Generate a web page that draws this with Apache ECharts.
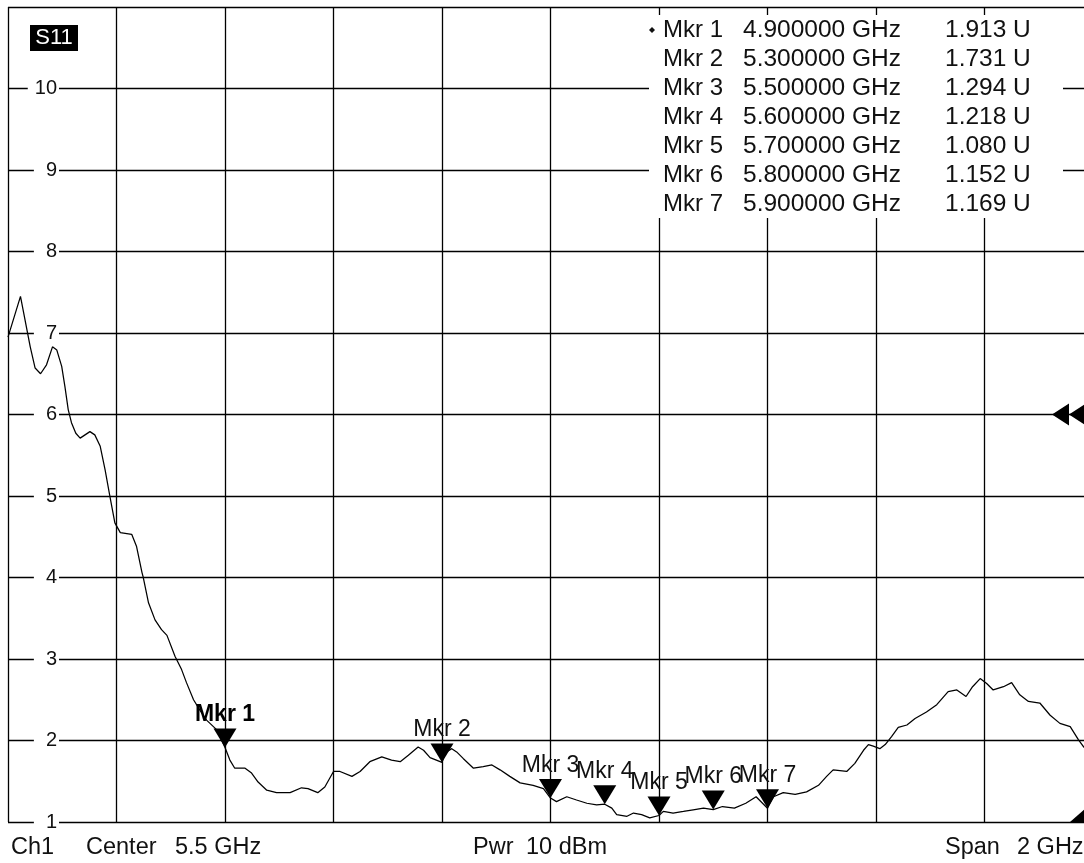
<!DOCTYPE html>
<html>
<head>
<meta charset="utf-8">
<script src="https://cdn.jsdelivr.net/npm/echarts@6/dist/echarts.min.js"></script>
<style>
html,body{margin:0;padding:0;background:#fff;}
#chart{width:1084px;height:863px;}
</style>
</head>
<body>
<div id="chart"></div>
<script>
// ---- data ----
const freqGHz = [4.500,4.523,4.541,4.550,4.560,4.571,4.582,4.590,4.599,4.605,4.611,4.617,4.625,4.633,4.642,4.651,4.660,4.670,4.679,4.688,
4.697,4.707,4.728,4.737,4.747,4.749,4.759,4.771,4.783,4.793,4.808,4.820,4.829,4.842,4.854,4.866,4.885,4.900,4.909,4.918,
4.937,4.949,4.961,4.977,4.995,5.020,5.041,5.053,5.071,5.084,5.100,5.112,5.134,5.149,5.167,5.189,5.207,5.223,5.238,5.256,
5.266,5.278,5.300,5.306,5.318,5.327,5.339,5.358,5.376,5.392,5.407,5.425,5.444,5.468,5.487,5.500,5.511,5.530,5.548,5.567,
5.585,5.600,5.613,5.622,5.641,5.653,5.668,5.683,5.700,5.708,5.726,5.745,5.763,5.782,5.800,5.817,5.839,5.860,5.879,5.900,
5.911,5.929,5.951,5.972,5.994,6.009,6.021,6.046,6.061,6.077,6.086,6.095,6.107,6.117,6.129,6.141,6.157,6.172,6.193,6.212,
6.233,6.249,6.266,6.278,6.292,6.304,6.316,6.335,6.350,6.365,6.381,6.402,6.421,6.439,6.458,6.473,6.483,6.500];
const s11Values = [6.95,7.45,6.83,6.57,6.50,6.61,6.83,6.79,6.59,6.34,6.06,5.90,5.77,5.71,5.75,5.79,5.75,5.61,5.32,4.99,
4.67,4.55,4.53,4.38,4.06,4.01,3.69,3.48,3.36,3.29,3.03,2.87,2.71,2.50,2.37,2.25,2.13,1.913,1.76,1.66,
1.66,1.60,1.49,1.39,1.36,1.36,1.42,1.41,1.36,1.43,1.62,1.62,1.56,1.62,1.74,1.80,1.76,1.74,1.82,1.92,
1.88,1.79,1.731,1.85,1.90,1.86,1.78,1.66,1.68,1.70,1.64,1.56,1.48,1.45,1.41,1.294,1.25,1.31,1.27,1.23,
1.21,1.218,1.17,1.09,1.07,1.11,1.09,1.05,1.080,1.13,1.11,1.13,1.15,1.17,1.152,1.19,1.17,1.23,1.31,1.169,
1.31,1.36,1.34,1.37,1.45,1.56,1.64,1.62,1.72,1.88,1.95,1.93,1.90,1.95,2.05,2.16,2.19,2.27,2.35,2.44,
2.60,2.62,2.54,2.66,2.76,2.70,2.62,2.66,2.71,2.56,2.48,2.46,2.31,2.21,2.17,2.01,1.92,1.82];

const markerNames = ['Mkr 1','Mkr 2','Mkr 3','Mkr 4','Mkr 5','Mkr 6','Mkr 7'];
const markerFreqGHz = [4.9,5.3,5.5,5.6,5.7,5.8,5.9];
const markerValues = [1.913,1.731,1.294,1.218,1.080,1.152,1.169];

const yTickLabels = ['1','2','3','4','5','6','7','8','9','10'];
const yMin = 1, yMax = 11, yStep = 1;
const centerGHz = 5.5, spanGHz = 2, pwrDbm = 10;
const refLevel = 6;
const traceName = 'S11', channelName = 'Ch1';

// ---- chart ----
const FONT = '"Liberation Sans", Arial, sans-serif';
const xMin = centerGHz - spanGHz / 2, xMax = centerGHz + spanGHz / 2;

const chart = echarts.init(document.getElementById('chart'), null, {renderer: 'canvas'});

const tableGraphics = [];
tableGraphics.push({type:'rect', z: 10, shape:{x:649, y:15, width:414, height:203}, style:{fill:'#fff'}});
tableGraphics.push({type:'polygon', z: 11, shape:{points:[[652,27],[655,30],[652,33],[649,30]]}, style:{fill:'#111'}});
markerNames.forEach(function (n, i) {
  const y = 30 + i * 29;
  tableGraphics.push({type:'text', z:11, x:663, y:y, style:{text:n, fill:'#111', font:'24px ' + FONT, align:'left', verticalAlign:'middle'}});
  tableGraphics.push({type:'text', z:11, x:743, y:y, style:{text:markerFreqGHz[i].toFixed(6) + ' GHz', fill:'#111', font:'24.5px ' + FONT, align:'left', verticalAlign:'middle'}});
  tableGraphics.push({type:'text', z:11, x:945, y:y, style:{text:markerValues[i].toFixed(3) + ' U', fill:'#111', font:'24.5px ' + FONT, align:'left', verticalAlign:'middle'}});
});

const bottomFont = '23.5px ' + FONT;
const bottomTexts = [
  {x:11, t:channelName},
  {x:86, t:'Center'},
  {x:175, t:centerGHz + ' GHz'},
  {x:473, t:'Pwr'},
  {x:526, t:pwrDbm + ' dBm'},
  {x:945, t:'Span'},
  {x:1017, t:spanGHz + ' GHz'}
].map(function (o) {
  return {type:'text', z:11, x:o.x, y:848, style:{text:o.t, fill:'#111', font:bottomFont, align:'left', verticalAlign:'middle'}};
});

const option = {
  backgroundColor: '#fff',
  animation: false,
  grid: {left: 8, top: 7, width: 1085, height: 815, containLabel: false, outerBoundsMode: 'none', show: false},
  xAxis: [
    {type:'value', min:xMin, max:xMax, show:false},
    {type:'value', min:0, max:10, interval:1, position:'top', z:0,
     axisLine:{show:false}, axisTick:{show:false}, axisLabel:{show:false},
     splitLine:{show:true, lineStyle:{color:'#000', width:1.3}}}
  ],
  yAxis: [
    {type:'value', min:yMin, max:yMax, interval:yStep, position:'left', z:5,
     axisLine:{show:false}, axisTick:{show:false}, splitLine:{show:false},
     axisLabel:{show:true, margin:-51, align:'right', verticalAlign:'middle',
       formatter:function (v) {
         const idx = Math.round(v - yMin);
         const s = yTickLabels[idx];
         if (s === undefined) return '';
         return s.length > 1 ? '{w|' + s + '}' : '{n|' + s + '}';
       },
       rich:{
         n:{fontSize:20, fontFamily:FONT, color:'#111', backgroundColor:'#fff', padding:[2,2,2,12]},
         w:{fontSize:20, fontFamily:FONT, color:'#111', backgroundColor:'#fff', padding:[2,2,2,7]}
       }}},
    {type:'value', min:yMin, max:yMax, interval:yStep, position:'right', z:0,
     axisLine:{show:false}, axisTick:{show:false}, axisLabel:{show:false},
     splitLine:{show:true, lineStyle:{color:'#000', width:1.3}}}
  ],
  graphic: [
    {type:'rect', z:10, shape:{x:30, y:25, width:48, height:26}, style:{fill:'#000'}},
    {type:'text', z:11, x:54, y:38, style:{text:traceName, fill:'#fff', font:'22px ' + FONT, align:'center', verticalAlign:'middle'}}
  ].concat(tableGraphics, bottomTexts),
  series: [
    {
      type:'line', xAxisIndex:0, yAxisIndex:0, z:2,
      data: freqGHz.map(function (f, i) { return [f, s11Values[i]]; }),
      symbol:'none', smooth:false, clip:true,
      lineStyle:{color:'#000', width:1.25},
      markPoint:{
        silent:true, animation:false, label:{show:false},
        data:[
          {coord:[xMax, refLevel], symbol:'path://M0,10L17,0L17,20ZM17,10L34,0L34,20Z', symbolSize:[34,22], symbolOffset:[-24,0], itemStyle:{color:'#000', opacity:1}},
          {coord:[xMax, yMin], symbol:'path://M0,20L23,0L23,20Z', symbolSize:[23,20], symbolOffset:[-11.5,-10], itemStyle:{color:'#000', opacity:1}}
        ]
      }
    },
    {
      type:'scatter', xAxisIndex:0, yAxisIndex:0, z:3,
      data: markerFreqGHz.map(function (f, i) {
        const item = {value:[f, markerValues[i]], name:markerNames[i]};
        if (i === 0) item.label = {fontWeight:'bold', color:'#000'};
        return item;
      }),
      symbol:'path://M0,0L2,0L1,2Z', symbolSize:[23,19], symbolOffset:[0,-9.5],
      itemStyle:{color:'#000', opacity:1},
      label:{show:true, position:'top', distance:2, formatter:'{b}', fontSize:23, fontFamily:FONT, color:'#111', opacity:1},
      emphasis:{disabled:true}
    }
  ]
};
chart.setOption(option);
</script>
</body>
</html>
